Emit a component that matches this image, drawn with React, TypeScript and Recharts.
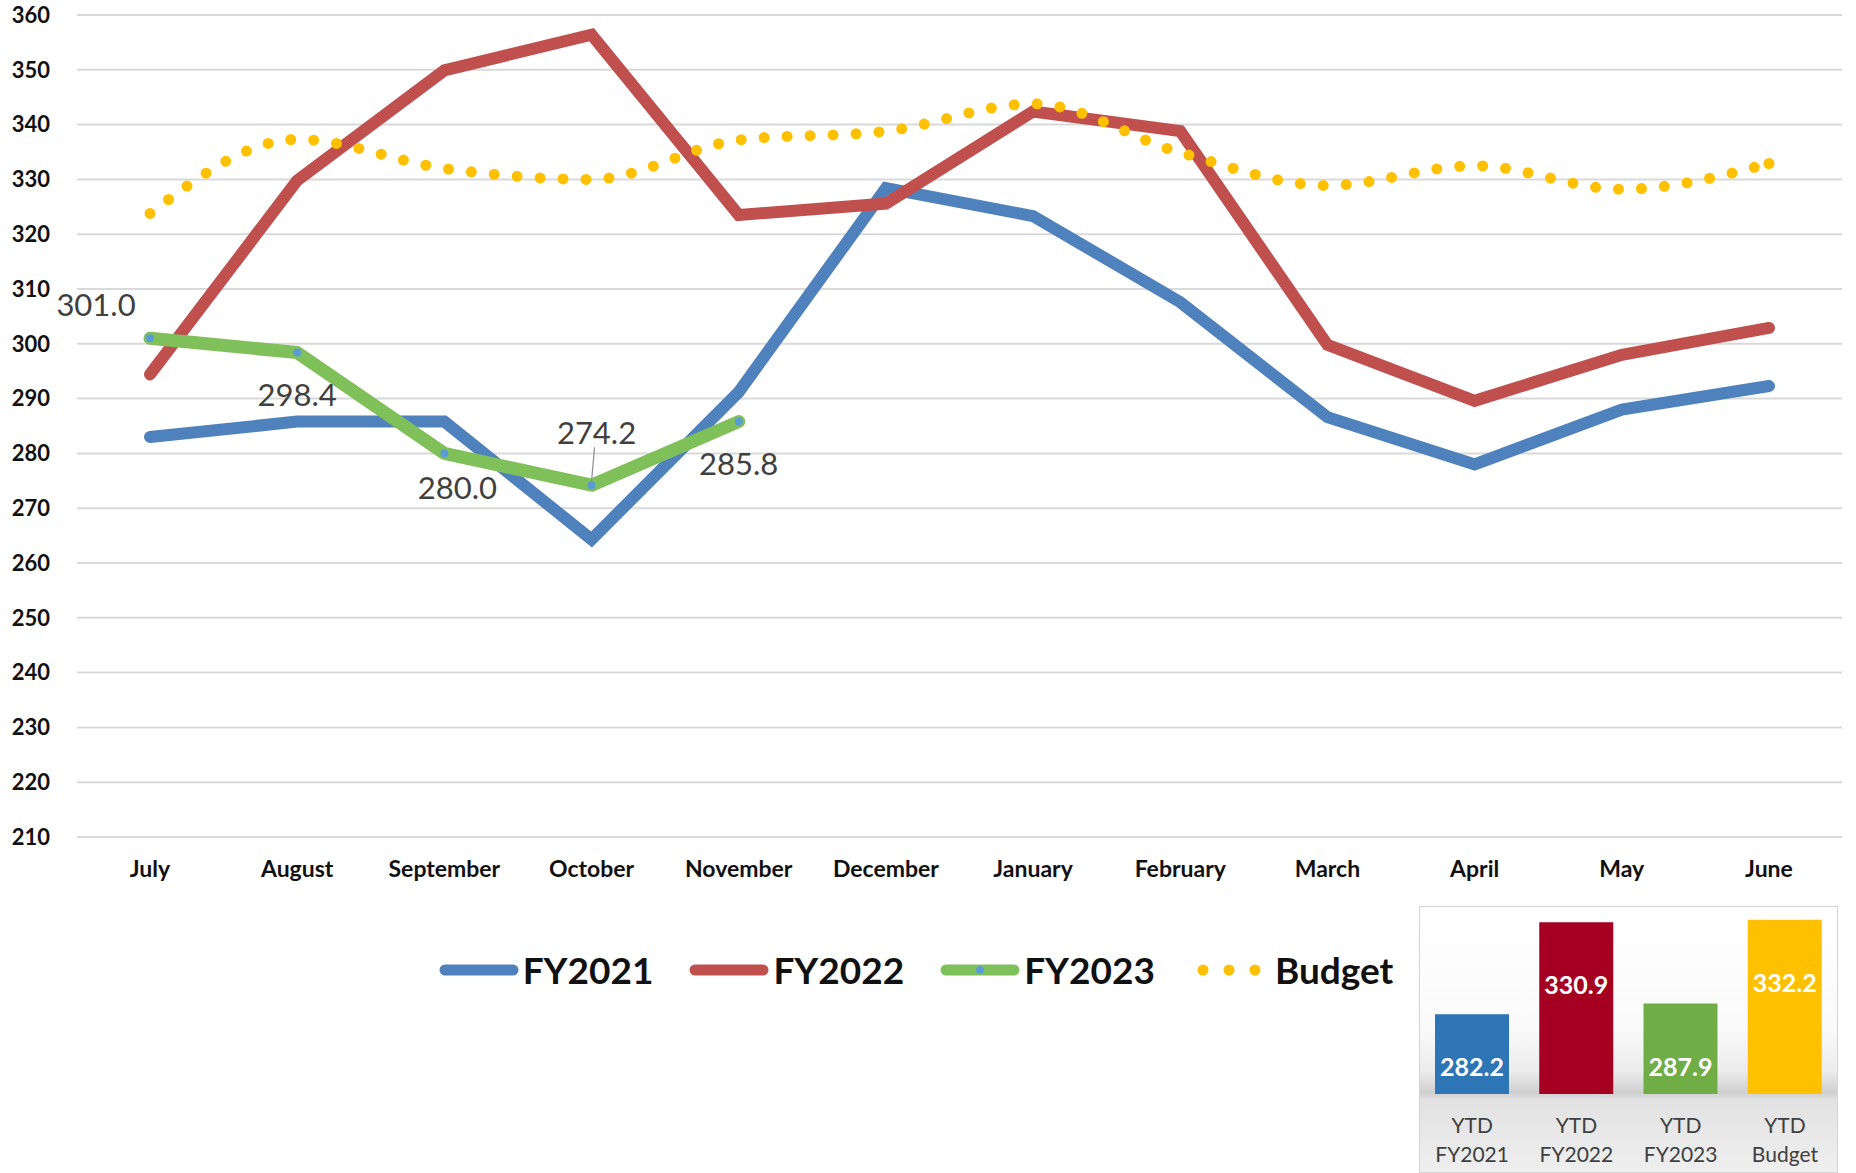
import React from "react";
import {
  Bar,
  BarChart,
  CartesianGrid,
  Cell,
  LabelList,
  Legend,
  Line,
  LineChart,
  XAxis,
  YAxis,
} from "recharts";

const months = [
  "July", "August", "September", "October", "November", "December",
  "January", "February", "March", "April", "May", "June",
];
const fy2021 = [283.0, 285.8, 285.8, 264.3, 291.2, 328.4, 323.3, 307.6, 286.6, 278.0, 288.0, 292.3];
const fy2022 = [294.4, 329.8, 349.9, 356.4, 323.5, 325.6, 342.4, 338.8, 299.8, 289.6, 298.0, 302.9];
const fy2023 = [301.0, 298.4, 280.0, 274.2, 285.8];
const budget = [323.8, 337.3, 332.0, 330.0, 337.2, 338.8, 343.8, 334.9, 328.9, 332.5, 328.2, 332.9];
const yTicks = [210, 220, 230, 240, 250, 260, 270, 280, 290, 300, 310, 320, 330, 340, 350, 360];

const ytdNames = ["FY2021", "FY2022", "FY2023", "Budget"];
const ytdValues = [282.2, 330.9, 287.9, 332.2];

const FONT = "Lato, 'Open Sans', sans-serif";
const BLUE = "#4f81bd";
const RED = "#c0504d";
const GREEN = "#80c05a";
const GOLD = "#ffc000";
const BAR_COLORS = ["#2e75b6", "#a50021", "#70ad47", "#ffc000"];

// where each FY2023 data label sits relative to its point
const labelOffsets = [
  { dx: -54, dy: -34 },
  { dx: 0, dy: 41 },
  { dx: 13, dy: 34 },
  { dx: 5, dy: -53 },
  { dx: 0, dy: 41 },
];

const data = months.map((month, i) => ({
  month,
  fy2021: fy2021[i],
  fy2022: fy2022[i],
  fy2023: i < fy2023.length ? fy2023[i] : null,
  budget: budget[i],
}));

const ytdData = ytdNames.map((name, i) => ({ name, value: ytdValues[i] }));

function Fy2023Label(props: any) {
  const { x, y, value, index } = props;
  if (value == null) return null;
  const off = labelOffsets[index] || { dx: 0, dy: -30 };
  const lx = x + off.dx;
  const ly = y + off.dy;
  return (
    <g>
      {index === 3 && (
        <line x1={lx - 2} y1={ly + 15} x2={x} y2={y - 4} stroke="#8c8c8c" strokeWidth={1.2} />
      )}
      <text
        x={lx}
        y={ly}
        textAnchor="middle"
        dominantBaseline="central"
        fontFamily={FONT}
        fontSize={31}
        fill="#404040"
      >
        {Number(value).toFixed(1)}
      </text>
    </g>
  );
}

function Fy2023Dot(props: any) {
  const { cx, cy, value } = props;
  if (value == null || cx == null) return null;
  return <circle cx={cx} cy={cy} r={4} fill="#5b9bd5" />;
}

// the dotted line's dash pattern may not land on the last point, so close it with a dot
function BudgetEndDot(props: any) {
  const { cx, cy, index } = props;
  if (index !== months.length - 1 || cx == null) return null;
  return <circle cx={cx} cy={cy} r={5.5} fill={GOLD} />;
}

function LegendContent() {
  const item = (key: string, label: string, icon: React.ReactNode) => (
    <div key={key} style={{ display: "flex", alignItems: "center", marginRight: 36 }}>
      {icon}
      <span
        style={{
          fontFamily: FONT,
          fontWeight: 700,
          fontSize: 37,
          color: "#111",
          marginLeft: 4,
          lineHeight: "40px",
        }}
      >
        {label}
      </span>
    </div>
  );
  const bar = (color: string, dot?: boolean) => (
    <svg width={80} height={14}>
      <line x1={6} y1={7} x2={74} y2={7} stroke={color} strokeWidth={11} strokeLinecap="round" />
      {dot && <circle cx={40} cy={7} r={4} fill="#5b9bd5" />}
    </svg>
  );
  const dots = (
    <svg width={80} height={14}>
      {[12, 38, 64].map((cx) => (
        <circle key={cx} cx={cx} cy={7} r={5.5} fill={GOLD} />
      ))}
    </svg>
  );
  return (
    <div style={{ display: "flex", justifyContent: "center", alignItems: "center", paddingLeft: 12 }}>
      {item("a", "FY2021", bar(BLUE))}
      {item("b", "FY2022", bar(RED))}
      {item("c", "FY2023", bar(GREEN, true))}
      {item("d", "Budget", dots)}
    </div>
  );
}

function BarValueLabel(props: any) {
  const { x, y, width, height, value } = props;
  const bottom = y + height;
  const cy = Math.min(y + 62, bottom - 28);
  return (
    <text
      x={x + width / 2}
      y={cy}
      textAnchor="middle"
      dominantBaseline="central"
      fontFamily={FONT}
      fontWeight={700}
      fontSize={25}
      fill="#ffffff"
    >
      {Number(value).toFixed(1)}
    </text>
  );
}

function YtdTick(props: any) {
  const { x, y, payload } = props;
  return (
    <g>
      <text x={x} y={y + 22} textAnchor="middle" dominantBaseline="central" fontFamily={FONT} fontSize={21} fill="#404040">
        YTD
      </text>
      <text x={x} y={y + 51} textAnchor="middle" dominantBaseline="central" fontFamily={FONT} fontSize={21} fill="#404040">
        {payload.value}
      </text>
    </g>
  );
}

export default function App() {
  return (
    <div style={{ position: "absolute", left: 0, top: 0, width: 1856, height: 1173, background: "#fff" }}>
      <LineChart width={1856} height={1173} data={data} margin={{ top: 15, right: 14, left: 0, bottom: 306 }}>
        <CartesianGrid vertical={false} stroke="#d9d9d9" strokeWidth={2} />
        <XAxis
          dataKey="month"
          axisLine={false}
          tickLine={false}
          tickSize={0}
          tickMargin={24}
          height={30}
          padding={{ left: 73, right: 73 }}
          tick={{ fontFamily: FONT, fontWeight: 700, fontSize: 23, fill: "#111" }}
          interval={0}
        />
        <YAxis
          width={77}
          domain={[210, 360]}
          ticks={yTicks}
          axisLine={false}
          tickLine={false}
          tickSize={20}
          tickMargin={7}
          tick={{ fontFamily: FONT, fontWeight: 700, fontSize: 22, fill: "#111" }}
        />
        <Line
          dataKey="fy2021"
          stroke={BLUE}
          strokeWidth={12}
          strokeLinejoin="miter"
          strokeLinecap="round"
          dot={false}
          activeDot={false}
          isAnimationActive={false}
        />
        <Line
          dataKey="fy2022"
          stroke={RED}
          strokeWidth={12}
          strokeLinejoin="miter"
          strokeLinecap="round"
          dot={false}
          activeDot={false}
          isAnimationActive={false}
        />
        <Line
          dataKey="fy2023"
          stroke={GREEN}
          strokeWidth={13}
          strokeLinejoin="round"
          strokeLinecap="round"
          dot={<Fy2023Dot />}
          activeDot={false}
          label={<Fy2023Label />}
          isAnimationActive={false}
        />
        <Line
          dataKey="budget"
          type="monotone"
          stroke={GOLD}
          strokeWidth={11}
          strokeDasharray="0 23"
          strokeLinecap="round"
          dot={<BudgetEndDot />}
          activeDot={false}
          isAnimationActive={false}
        />
        <Legend
          layout="horizontal"
          verticalAlign="middle"
          align="center"
          wrapperStyle={{ top: 950, left: 0, width: 1856 }}
          content={<LegendContent />}
        />
      </LineChart>

      <div
        style={{
          position: "absolute",
          left: 1419,
          top: 906,
          width: 419,
          height: 267,
          boxSizing: "border-box",
          border: "1px solid #d4d4d4",
          background:
            "linear-gradient(to bottom, #ffffff 0%, #fafafa 45%, #ececec 62%, #cfcfcf 70%, #e2e2e2 73%, #efefef 100%)",
        }}
      >
        <BarChart
          width={417}
          height={265}
          data={ytdData}
          margin={{ top: 0, right: 0, left: 0, bottom: 0 }}
        >
          <XAxis dataKey="name" height={78} axisLine={false} tickLine={false} tick={<YtdTick />} interval={0} />
          <YAxis hide domain={[240, 339]} />
          <Bar dataKey="value" barSize={74} isAnimationActive={false}>
            {ytdData.map((d, i) => (
              <Cell key={d.name} fill={BAR_COLORS[i]} />
            ))}
            <LabelList dataKey="value" content={<BarValueLabel />} />
          </Bar>
        </BarChart>
      </div>
    </div>
  );
}
